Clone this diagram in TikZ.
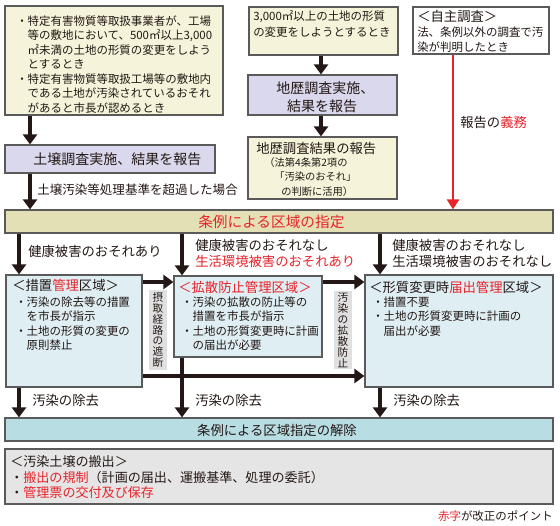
\documentclass[tikz,border=0pt]{standalone}
\usepackage{fontspec}
\setmainfont{Noto Sans CJK JP}
\usetikzlibrary{arrows.meta,fit}
\definecolor{cream}{HTML}{F5F4DA}
\definecolor{lav}{HTML}{DAD8EC}
\definecolor{khaki}{HTML}{E3E0B5}
\definecolor{lblue}{HTML}{DEEEF3}
\definecolor{cyanb}{HTML}{B8DEE3}
\definecolor{grayb}{HTML}{E6E5E6}
\definecolor{vgray}{HTML}{E0E0E0}
\definecolor{bordc}{HTML}{5A5A5A}
\definecolor{arrc}{HTML}{231815}
\definecolor{myred}{HTML}{E8232A}
\definecolor{txtc}{HTML}{231815}
\begin{document}
\begin{tikzpicture}[x=0.75pt,y=-0.75pt,
  box/.style={draw=bordc, line width=0.9pt, inner sep=0pt},
  txt/.style={inner sep=0pt, anchor=west, text=txtc},
  f77/.style={txt, font=\fontsize{7.7pt}{9pt}\selectfont, text height=6.78pt, text depth=0.92pt},
  f86/.style={txt, font=\fontsize{8.6pt}{10pt}\selectfont, text height=7.57pt, text depth=1.03pt},
  f94/.style={txt, font=\fontsize{9.4pt}{11pt}\selectfont, text height=8.27pt, text depth=1.13pt},
  f98/.style={txt, font=\fontsize{9.8pt}{11pt}\selectfont, text height=8.62pt, text depth=1.18pt},
  f100/.style={txt, font=\fontsize{10pt}{12pt}\selectfont, text height=8.8pt, text depth=1.2pt},
  f105/.style={txt, font=\fontsize{10.5pt}{12pt}\selectfont, text height=9.24pt, text depth=1.26pt},
  f110/.style={txt, font=\fontsize{11pt}{13pt}\selectfont, text height=9.68pt, text depth=1.32pt},
  vlab/.style={fill=vgray, inner xsep=2pt, inner ysep=1.5pt, minimum width=14pt, align=center, text=txtc,
     font=\fontsize{8pt}{8.2pt}\selectfont},
  bigarr/.style={draw=arrc, line width=3.2pt, -{Triangle[width=10.5pt,length=7.5pt]}},
  redarr/.style={draw=myred, line width=2pt, -{Triangle[width=9pt,length=7.5pt]}}
]
\useasboundingbox (0,0) rectangle (560,525);
% ---------- boxes
\node[box, fill=cream, fit={(5,6) (223,115)}] (b1) {};
\node[box, fill=cream, fit={(249,7) (398,55)}] (b2) {};
\node[box, fill=white, fit={(413,7) (549,54)}] (b3) {};
\node[box, fill=lav, fit={(248,75) (397,115)}] (b4) {};
\node[box, fill=cream, fit={(248,137) (397,199)}] (b5) {};
\node[box, fill=lav, fit={(5,145) (215,173)}] (bs) {};
\node[box, fill=khaki, fit={(5,210) (553,233)}] (b6) {};
\node[box, fill=lblue, fit={(6,275) (142,387)}] (b7) {};
\node[box, fill=lblue, fit={(174,276) (322,357)}] (b8) {};
\node[box, fill=lblue, fit={(365,275) (553,387)}] (b9) {};
\node[box, fill=cyanb, fit={(5,418) (553,441)}] (b10) {};
\node[box, fill=grayb, fit={(5,449) (553,504)}] (b11) {};
% ---------- box texts
\foreach \t [count=\i] in {・特定有害物質等取扱事業者が、工場,
  　等の敷地において、500㎡以上{3,000},
  　㎡未満の土地の形質の変更をしよう,
  　とするとき,
  ・特定有害物質等取扱工場等の敷地内,
  　である土地が汚染されているおそれ,
  　があると市長が認めるとき}
  {\node[f86] (t1-\i) at (16,{21+(\i-1)*14.5}) {\t};}
\node[f86] (t2a) at (253,16) {3,000㎡以上の土地の形質};
\node[f86] (t2b) at (253,32) {の変更をしようとするとき};
\node[f100] (t3a) at (417,16) {＜自主調査＞};
\node[f86] (t3b) at (417,32) {法、条例以外の調査で汚};
\node[f86] (t3c) at (417,47) {染が判明したとき};
\node[f105] (t4a) at (276,88) {地歴調査実施、};
\node[f105, anchor=center] (t4b) at (322,106) {結果を報告};
\node[f100] (t5a) at (256,148) {地歴調査結果の報告};
\node[f77] (t5b) at (264,163) {（法第4条第2項の};
\node[f77] (t5c) at (274,177) {「汚染のおそれ」};
\node[f77] (t5d) at (281,192) {の判断に活用）};
\node[f105] (tsa) at (33,159) {土壌調査実施、結果を報告};
\node[f110, text=myred] (t6) at (198,222) {条例による区域の指定};
\node[f100] (t7a) at (12,285) {＜措置\textcolor{myred}{管理}区域＞};
\node[f86] (t7b) at (15,302) {・汚染の除去等の措置};
\node[f86] (t7c) at (15,316) {　を市長が指示};
\node[f86] (t7d) at (15,331) {・土地の形質の変更の};
\node[f86] (t7e) at (15,345) {　原則禁止};
\node[f100, text=myred] (t8a) at (178,287) {＜拡散防止管理区域＞};
\node[f86] (t8b) at (181,302) {・汚染の拡散の防止等の};
\node[f86] (t8c) at (181,316) {　措置を市長が指示};
\node[f86] (t8d) at (181,331) {・土地の形質変更時に計画};
\node[f86] (t8e) at (181,345) {　の届出が必要};
\node[f100] (t9a) at (369,287) {＜形質変更時\textcolor{myred}{届出管理}区域＞};
\node[f86] (t9b) at (372,302) {・措置不要};
\node[f86] (t9c) at (372,316) {・土地の形質変更時に計画の};
\node[f86] (t9d) at (372,331) {　届出が必要};
\node[vlab] (v1) at (158,330) {摂\\取\\経\\路\\の\\遮\\断};
\node[vlab] (v2) at (343,330) {汚\\染\\の\\拡\\散\\防\\止};
\node[f100, anchor=center] (t10) at (277,430) {条例による区域指定の解除};
\node[f98] (t11a) at (10,462) {＜汚染土壌の搬出＞};
\node[f98] (t11b) at (10,478) {・\textcolor{myred}{搬出の規制}（計画の届出、運搬基準、処理の委託）};
\node[f98] (t11c) at (10,493) {・\textcolor{myred}{管理票の交付及び保存}};
\node[f86, anchor=east] (foot) at (553,516) {\textcolor{myred}{赤字}が改正のポイント};
% ---------- connector labels
\node[f94] (lsa) at (37,190) {土壌汚染等処理基準を超過した場合};
\node[f100] (lred) at (460,122) {報告の\textcolor{myred}{義務}};
\node[f100] (l1) at (28,251) {健康被害のおそれあり};
\node[f100] (l2a) at (195,245) {健康被害のおそれなし};
\node[f100, text=myred] (l2b) at (195,261) {生活環境被害のおそれあり};
\node[f100] (l3a) at (392,245) {健康被害のおそれなし};
\node[f100] (l3b) at (392,261) {生活環境被害のおそれなし};
\node[f100] (r1) at (32,400) {汚染の除去};
\node[f100] (r2) at (195,400) {汚染の除去};
\node[f100] (r3) at (393,400) {汚染の除去};
% ---------- connectors
\coordinate (ax1) at (30,0);
\coordinate (ax2) at (321,0);
\coordinate (ax3) at (453,0);
\coordinate (ax4) at (19,0);
\coordinate (ax5) at (182,0);
\coordinate (ax6) at (380,0);
\coordinate (ay1) at (0,282);
\coordinate (ay2) at (0,376);
\draw[bigarr] (b1.south -| ax1) -- (bs.north -| ax1);
\draw[bigarr] (bs.south -| ax1) -- (b6.north -| ax1);
\draw[bigarr] (b2.south -| ax2) -- (b4.north -| ax2);
\draw[bigarr] (b4.south -| ax2) -- (b5.north -| ax2);
\draw[redarr] (b3.south -| ax3) -- (b6.north -| ax3);
\draw[bigarr] (b6.south -| ax4) -- (b7.north -| ax4);
\draw[bigarr] (b6.south -| ax5) -- (b8.north -| ax5);
\draw[bigarr] (b6.south -| ax6) -- (b9.north -| ax6);
\draw[bigarr] (b7.east |- ay1) -- (b8.west |- ay1);
\draw[bigarr] (b8.east |- ay1) -- (b9.west |- ay1);
\draw[bigarr] (b7.east |- ay2) -- (b9.west |- ay2);
\draw[bigarr] (b7.south -| ax4) -- (b10.north -| ax4);
\draw[bigarr] (b8.south -| ax5) -- (b10.north -| ax5);
\draw[bigarr] (b9.south -| ax6) -- (b10.north -| ax6);
\end{tikzpicture}
\end{document}
